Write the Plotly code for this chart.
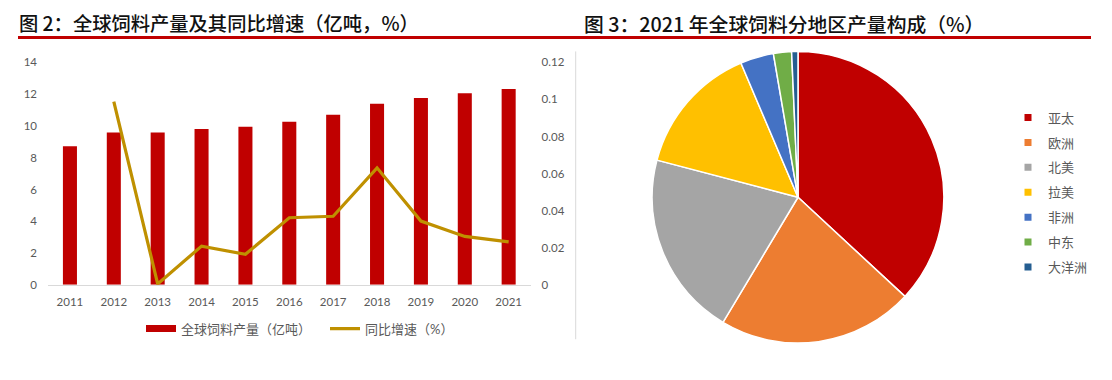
import plotly.graph_objects as go

W, H = 1112, 380

years = ["2011", "2012", "2013", "2014", "2015", "2016", "2017", "2018", "2019", "2020", "2021"]
feed_output = [8.72, 9.59, 9.59, 9.81, 9.95, 10.27, 10.70, 11.39, 11.76, 12.06, 12.32]
yoy_growth = [None, 0.0988, 0.0005, 0.0209, 0.0165, 0.0362, 0.0370, 0.0631, 0.0344, 0.0261, 0.0232]

left_ticks = [0, 2, 4, 6, 8, 10, 12, 14]
right_ticks = [0, 0.02, 0.04, 0.06, 0.08, 0.10, 0.12]
right_tick_text = ["0", "0.02", "0.04", "0.06", "0.08", "0.1", "0.12"]

regions = ["亚太", "欧洲", "北美", "拉美", "非洲", "中东", "大洋洲"]
region_share = [36.9, 21.7, 20.5, 14.5, 3.7, 2.0, 0.7]
region_colors = ["#C00000", "#ED7D31", "#A5A5A5", "#FFC000", "#4472C4", "#70AD47", "#255E91"]

bar_name = "全球饲料产量（亿吨）"
line_name = "同比增速（%）"
title_left = "图 2：全球饲料产量及其同比增速（亿吨，%）"
title_right = "图 3：2021 年全球饲料分地区产量构成（%）"

FONT = "Lato, 'Noto Sans CJK SC', sans-serif"
TITLE_FONT = "'Noto Sans CJK SC', sans-serif"
GREY = "#595959"
BAR_RED = "#C00000"
GOLD = "#BF9000"


def px_x(p):
    return p / W


def px_y(p):
    return 1 - p / H


fig = go.Figure()

# left chart
fig.add_trace(go.Bar(
    x=years, y=feed_output, name=bar_name,
    marker=dict(color=BAR_RED, line=dict(width=0)),
    width=0.32, xaxis="x", yaxis="y", showlegend=False, legendgroup="bar",
))
fig.add_trace(go.Scatter(
    x=[None], y=[None], name=bar_name, mode="lines",
    line=dict(color=BAR_RED, width=7), xaxis="x", yaxis="y",
    legend="legend", legendgroup="bar", hoverinfo="skip",
))
fig.add_trace(go.Scatter(
    x=years, y=yoy_growth, name=line_name, mode="lines",
    line=dict(color=GOLD, width=3.2), xaxis="x", yaxis="y2",
    legend="legend", connectgaps=False,
))

# right chart
fig.add_trace(go.Pie(
    labels=regions, values=region_share, sort=False, direction="clockwise",
    rotation=0, marker=dict(colors=region_colors, line=dict(color="white", width=1.5)),
    textinfo="none", hoverinfo="label+percent", showlegend=False,
    domain=dict(x=[px_x(647), px_x(949)], y=[px_y(348), px_y(46)]),
))
for name, color in zip(regions, region_colors):
    fig.add_trace(go.Scatter(
        x=[None], y=[None], name=name, mode="markers",
        marker=dict(symbol="square", size=7, color=color),
        xaxis="x", yaxis="y", legend="legend2", legendgroup=name,
        hoverinfo="skip",
    ))

fig.update_layout(
    width=W, height=H,
    margin=dict(l=0, r=0, t=0, b=0),
    paper_bgcolor="white", plot_bgcolor="white",
    font=dict(family=FONT, size=12, color=GREY),
    xaxis=dict(
        domain=[px_x(48), px_x(530.6)], type="category",
        showline=True, linecolor="#D9D9D9", linewidth=1,
        showgrid=False, ticks="", tickfont=dict(size=11.5, color=GREY),
        ticklabelstandoff=6, anchor="y",
    ),
    yaxis=dict(
        domain=[px_y(287.7), px_y(57.3)], range=[0, 14],
        tickvals=left_ticks, showgrid=False, zeroline=False,
        showline=False, tickfont=dict(size=11.5, color=GREY),
        ticklabelstandoff=10, anchor="x",
    ),
    yaxis2=dict(
        domain=[px_y(287.7), px_y(57.3)], range=[0, 0.12],
        tickvals=right_ticks, ticktext=right_tick_text,
        overlaying="y", side="right", showgrid=False, zeroline=False,
        showline=False, tickfont=dict(size=11.5, color=GREY),
        ticklabelstandoff=10, anchor="x",
    ),
    legend=dict(
        orientation="h", x=px_x(325), xanchor="center",
        y=px_y(333), yanchor="middle",
        font=dict(size=13, color=GREY, family=FONT),
        itemwidth=30, traceorder="normal", bgcolor="rgba(0,0,0,0)",
        entrywidth=139, entrywidthmode="pixels",
    ),
    legend2=dict(
        orientation="v", x=px_x(1008), xanchor="left",
        y=px_y(99), yanchor="top",
        font=dict(size=13, color=GREY, family=FONT),
        bgcolor="rgba(0,0,0,0)", traceorder="grouped", tracegroupgap=5,
    ),
    showlegend=True,
)

fig.add_annotation(
    text=title_left, xref="paper", yref="paper", x=px_x(17), y=px_y(17),
    xanchor="left", yanchor="middle", showarrow=False,
    font=dict(family=TITLE_FONT, size=19.3, color="#111111", weight=500),
)
fig.add_annotation(
    text=title_right, xref="paper", yref="paper", x=px_x(582), y=px_y(17),
    xanchor="left", yanchor="middle", showarrow=False,
    font=dict(family=TITLE_FONT, size=19.8, color="#111111", weight=500),
)

fig.add_shape(type="line", xref="paper", yref="paper",
              x0=px_x(18), x1=px_x(1091), y0=px_y(31.5), y1=px_y(31.5),
              line=dict(color=BAR_RED, width=3))
fig.add_shape(type="line", xref="paper", yref="paper",
              x0=px_x(575.7), x1=px_x(575.7), y0=px_y(46), y1=px_y(344),
              line=dict(color="#D9D9D9", width=1))

fig.write_html("out.html", config={"displayModeBar": False},
               post_script="document.body.style.margin='0';")
